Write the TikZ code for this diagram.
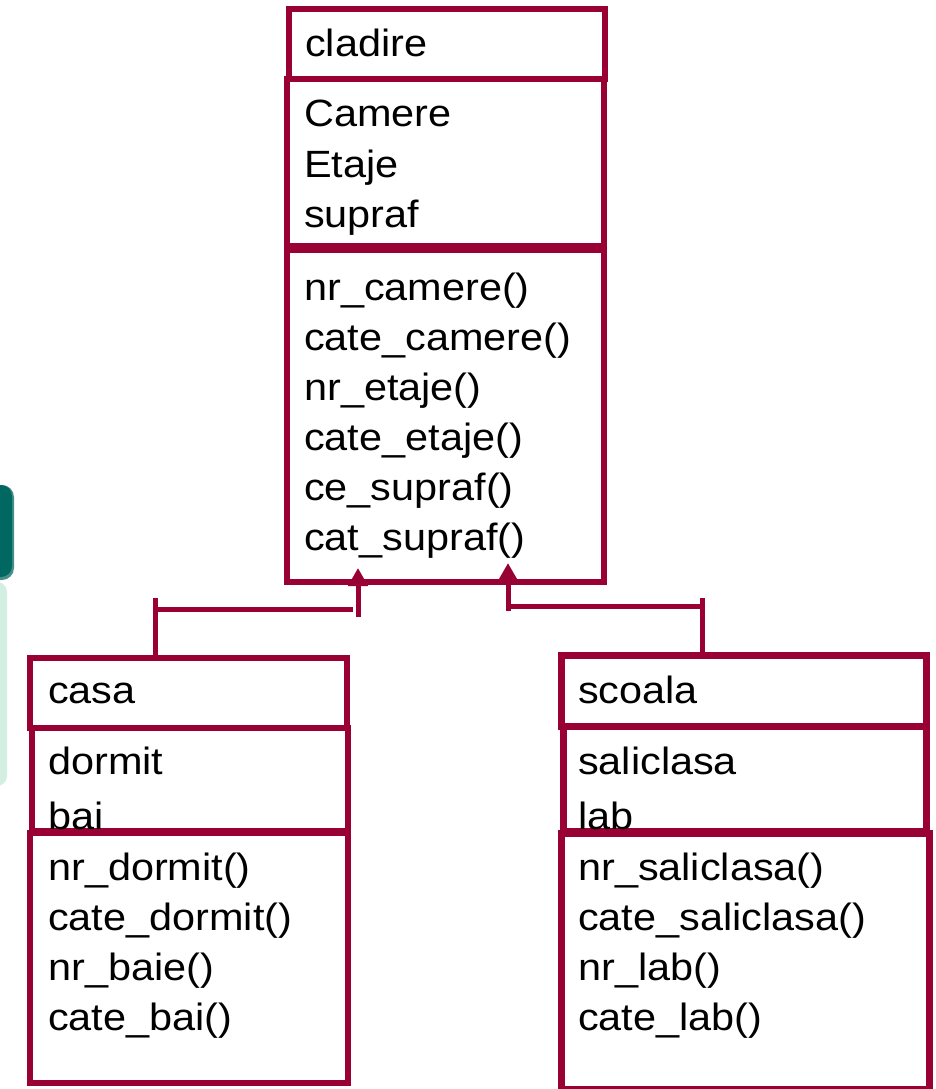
\documentclass[tikz,border=0pt]{standalone}
\usepackage{fontspec}
\setmainfont[FakeStretch=1.09]{Liberation Sans}
\usetikzlibrary{arrows.meta}
\definecolor{umlred}{RGB}{153,0,51}
\definecolor{tealdark}{RGB}{0,104,96}
\definecolor{tealedge}{RGB}{72,142,136}
\definecolor{mint}{RGB}{211,239,227}
\tikzset{
  umlbox/.style={draw=umlred, fill=white, rectangle, inner sep=0pt, anchor=north west},
  lbl/.style={anchor=base west, inner sep=0pt, text=black, font=\fontsize{38}{50}\selectfont},
  link/.style={draw=umlred, line width=5pt},
  inherit/.style={link, -{Triangle[width=19pt,length=18pt]}},
}
\begin{document}
\begin{tikzpicture}[x=1pt,y=-1pt]
\useasboundingbox (0,0) rectangle (935,1089);
\fill[white] (0,0) rectangle (935,1089);

% slide decoration at the left border
\fill[tealedge, rounded corners=12pt] (-30,485) rectangle (14,580);
\fill[tealdark, rounded corners=11pt] (-30,485) rectangle (12,577);
\fill[mint, rounded corners=10pt] (-30,582) rectangle (7,786);

% ---------- class cladire ----------
\node[umlbox, line width=6pt, minimum width=316pt, minimum height=70pt] (cladT) at (286,6) {};
\node[lbl] (cladN) at (305,57) {cladire};
\node[umlbox, line width=6pt, minimum width=317pt, minimum height=167pt] (cladA) at (284,76) {};
\node[lbl] (cladA1) at (304,127) {Camere};
\node[lbl] (cladA2) at (304,177) {Etaje};
\node[lbl] (cladA3) at (304,227) {supraf};
\node[umlbox, line width=6pt, minimum width=317pt, minimum height=332pt] (cladM) at (284,247) {};
\foreach \t [count=\i] in {nr\_camere(), cate\_camere(), nr\_etaje(), cate\_etaje(), ce\_supraf(), cat\_supraf()}
  \node[lbl] (cladM\i) at (304,250+50*\i) {\t};

% ---------- class casa ----------
\node[umlbox, line width=5.5pt, minimum width=317pt, minimum height=70pt] (casaT) at (27,655) {};
\node[lbl] (casaN) at (48,703) {casa};
\node[umlbox, line width=5.5pt, minimum width=316pt, minimum height=103pt] (casaA) at (29,725) {};
\node[lbl] (casaA1) at (48,774) {dormit};
\node[lbl] (casaA2) at (48,829) {bai};
\node[umlbox, line width=5.5pt, minimum width=318pt, minimum height=250pt] (casaM) at (27,830) {};
\foreach \t [count=\i] in {nr\_dormit(), cate\_dormit(), nr\_baie(), cate\_bai()}
  \node[lbl] (casaM\i) at (48,830+50*\i) {\t};

% ---------- class scoala ----------
\node[umlbox, line width=7pt, minimum width=365pt, minimum height=71pt] (scoT) at (558,652) {};
\node[lbl] (scoN) at (578,703) {scoala};
\node[umlbox, line width=7pt, minimum width=363pt, minimum height=105pt] (scoA) at (560,723) {};
\node[lbl] (scoA1) at (578,774) {saliclasa};
\node[lbl] (scoA2) at (578,829) {lab};
\node[umlbox, line width=7pt, minimum width=368pt, minimum height=256pt] (scoM) at (558,830) {};
\foreach \t [count=\i] in {nr\_saliclasa(), cate\_saliclasa(), nr\_lab(), cate\_lab()}
  \node[lbl] (scoM\i) at (578,830+50*\i) {\t};

% ---------- generalisation casa -> cladire ----------
\coordinate (lTick) at (155,598);
\coordinate (lBarL) at (158,609);
\coordinate (lBarR) at (353,609);
\coordinate (lFoot) at (358,617);
\coordinate (lTip)  at (358,568);
\draw[link] (lTick) -- (lTick |- casaT.north);
\draw[link] (lBarL) -- (lBarR);
\draw[inherit] (lFoot) -- (lTip);

% ---------- generalisation scoala -> cladire ----------
\coordinate (rTick) at (702,598);
\coordinate (rBarL) at (508,606);
\coordinate (rFoot) at (508,611);
\coordinate (rTip)  at (508,563);
\draw[link] (rTick) -- (rTick |- scoT.north);
\draw[link] (rBarL) -- (rBarL -| rTick);
\draw[inherit] (rFoot) -- (rTip);
\end{tikzpicture}
\end{document}
